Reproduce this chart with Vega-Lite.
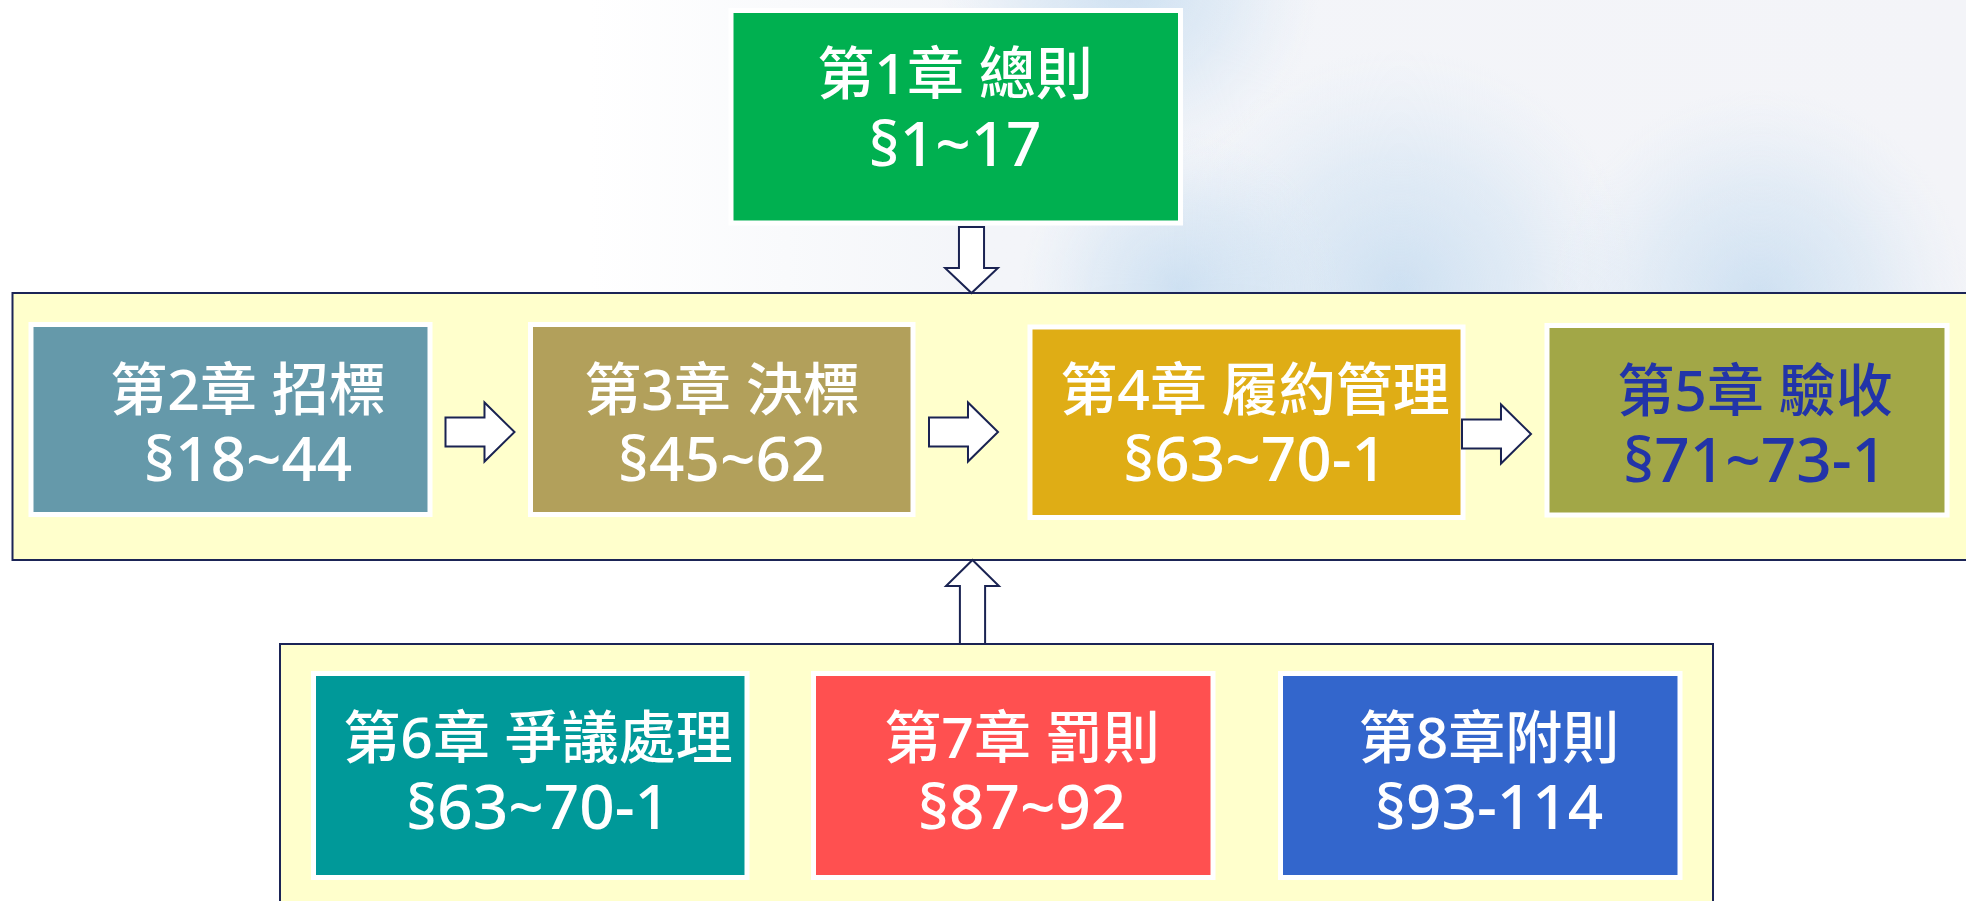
{
  "$schema": "https://vega.github.io/schema/vega-lite/v6.json",
  "width": 1966,
  "height": 901,
  "padding": 0,
  "autosize": {"type": "none"},
  "background": "#FFFFFF",
  "config": {"view": {"stroke": null}},
  "datasets": {
    "containers": [
      {"name": "middle", "x": 12.5, "x2": 2000, "y": 293, "y2": 560},
      {"name": "bottom", "x": 280, "x2": 1713, "y": 644, "y2": 960}
    ],
    "boxes": [
      {"ch": "第1章", "x": 731, "x2": 1180.5, "y": 10.5, "y2": 223, "tx": 955, "ty1": 76.5, "ty2": 146.5, "t1": "第1章 總則", "t2": "§1~17"},
      {"ch": "第2章", "x": 31, "x2": 430, "y": 324.5, "y2": 514.5, "tx": 248, "ty1": 392.5, "ty2": 461.5, "t1": "第2章 招標", "t2": "§18~44"},
      {"ch": "第3章", "x": 530.5, "x2": 913, "y": 324.5, "y2": 514.5, "tx": 722, "ty1": 393, "ty2": 462, "t1": "第3章 決標", "t2": "§45~62"},
      {"ch": "第4章", "x": 1030, "x2": 1463, "y": 327, "y2": 517.5, "tx": 1255, "ty1": 393, "ty2": 462, "t1": "第4章 履約管理", "t2": "§63~70-1"},
      {"ch": "第5章", "x": 1547, "x2": 1947, "y": 325.5, "y2": 515, "tx": 1755, "ty1": 393.5, "ty2": 462.5, "t1": "第5章 驗收", "t2": "§71~73-1"},
      {"ch": "第6章", "x": 313.5, "x2": 747, "y": 673.5, "y2": 877.5, "tx": 538, "ty1": 740.5, "ty2": 809.5, "t1": "第6章 爭議處理", "t2": "§63~70-1"},
      {"ch": "第7章", "x": 813.5, "x2": 1213, "y": 673.5, "y2": 877.5, "tx": 1022, "ty1": 740.5, "ty2": 809.5, "t1": "第7章 罰則", "t2": "§87~92"},
      {"ch": "第8章", "x": 1280.5, "x2": 1680, "y": 673.5, "y2": 877.5, "tx": 1489, "ty1": 740.5, "ty2": 809.5, "t1": "第8章附則", "t2": "§93-114"}
    ],
    "arrows": [
      {"dir": "right", "x": 480, "y": 432},
      {"dir": "right", "x": 963.5, "y": 432},
      {"dir": "right", "x": 1496.5, "y": 434},
      {"dir": "down", "x": 971.5, "y": 260},
      {"dir": "up", "x": 972.5, "y": 602}
    ],
    "clouds": [
      {"x": 1160, "x2": 1640, "y": 50, "y2": 530},
      {"x": 1550, "x2": 1970, "y": 90, "y2": 510},
      {"x": 1020, "x2": 1340, "y": 130, "y2": 450},
      {"x": 940, "x2": 1320, "y": -210, "y2": 170}
    ]
  },
  "encoding": {
    "x": {"type": "quantitative", "scale": {"domain": [0, 1966], "nice": false, "zero": false}, "axis": null},
    "y": {"type": "quantitative", "scale": {"domain": [0, 901], "nice": false, "zero": false, "reverse": true}, "axis": null}
  },
  "layer": [
    {
      "data": {"values": [{"x": 0, "x2": 1966, "y": 0, "y2": 293}]},
      "mark": {"type": "rect", "clip": true, "fill": {"gradient": "linear", "x1": 0, "y1": 0, "x2": 1, "y2": 0, "stops": [
        {"offset": 0, "color": "#FFFFFF"},
        {"offset": 0.3, "color": "#FFFFFF"},
        {"offset": 0.5, "color": "#F3F5F9"},
        {"offset": 1, "color": "#F3F4F8"}
      ]}},
      "encoding": {"x": {"field": "x", "type": "quantitative"}, "x2": {"field": "x2"}, "y": {"field": "y", "type": "quantitative"}, "y2": {"field": "y2"}}
    },
    {
      "data": {"name": "clouds"},
      "mark": {"type": "rect", "clip": true, "fill": {"gradient": "radial", "x1": 0.5, "y1": 0.5, "r1": 0, "x2": 0.5, "y2": 0.5, "r2": 0.5, "stops": [
        {"offset": 0, "color": "rgba(196,219,240,0.8)"},
        {"offset": 0.55, "color": "rgba(206,225,242,0.45)"},
        {"offset": 1, "color": "rgba(220,232,245,0)"}
      ]}},
      "encoding": {"x": {"field": "x", "type": "quantitative"}, "x2": {"field": "x2"}, "y": {"field": "y", "type": "quantitative"}, "y2": {"field": "y2"}}
    },
    {
      "data": {"name": "containers"},
      "mark": {"type": "rect", "clip": true, "fill": "#FFFFCC", "stroke": "#1B2456", "strokeWidth": 2},
      "encoding": {"x": {"field": "x", "type": "quantitative"}, "x2": {"field": "x2"}, "y": {"field": "y", "type": "quantitative"}, "y2": {"field": "y2"}}
    },
    {
      "data": {"name": "boxes"},
      "mark": {"type": "rect", "stroke": "#FFFFFF", "strokeWidth": 5},
      "encoding": {
        "x": {"field": "x", "type": "quantitative"},
        "x2": {"field": "x2"},
        "y": {"field": "y", "type": "quantitative"},
        "y2": {"field": "y2"},
        "fill": {"field": "ch", "type": "nominal", "legend": null, "scale": {
          "domain": ["第1章", "第2章", "第3章", "第4章", "第5章", "第6章", "第7章", "第8章"],
          "range": ["#00B050", "#6599AA", "#B2A05B", "#DFAD15", "#A2A747", "#009999", "#FF5050", "#3366CC"]
        }}
      }
    },
    {
      "data": {"name": "arrows"},
      "transform": [{"filter": "datum.dir === 'right'"}],
      "mark": {"type": "point", "filled": true, "opacity": 1, "fill": "#FFFFFF", "stroke": "#1A2352", "strokeWidth": 2, "size": 4761,
        "shape": "M-1,-0.42 L0.13,-0.42 L0.13,-0.855 L1,0 L0.13,0.855 L0.13,0.42 L-1,0.42 Z"},
      "encoding": {"x": {"field": "x", "type": "quantitative"}, "y": {"field": "y", "type": "quantitative"}}
    },
    {
      "data": {"name": "arrows"},
      "transform": [{"filter": "datum.dir === 'down'"}],
      "mark": {"type": "point", "filled": true, "opacity": 1, "fill": "#FFFFFF", "stroke": "#1A2352", "strokeWidth": 2, "size": 4356,
        "shape": "M-0.38,-1 L0.38,-1 L0.38,0.24 L0.8,0.24 L0,1 L-0.8,0.24 L-0.38,0.24 Z"},
      "encoding": {"x": {"field": "x", "type": "quantitative"}, "y": {"field": "y", "type": "quantitative"}}
    },
    {
      "data": {"name": "arrows"},
      "transform": [{"filter": "datum.dir === 'up'"}],
      "mark": {"type": "point", "filled": true, "opacity": 1, "fill": "#FFFFFF", "stroke": "#1A2352", "strokeWidth": 2, "size": 7056,
        "shape": "M0,-1 L0.63,-0.38 L0.3,-0.38 L0.3,1 L-0.3,1 L-0.3,-0.38 L-0.63,-0.38 Z"},
      "encoding": {"x": {"field": "x", "type": "quantitative"}, "y": {"field": "y", "type": "quantitative"}}
    },
    {
      "data": {"name": "boxes"},
      "mark": {"type": "text", "align": "center", "baseline": "middle", "font": "Noto Sans, Noto Sans CJK TC", "fontSize": 57, "fontWeight": 500},
      "encoding": {
        "x": {"field": "tx", "type": "quantitative"},
        "y": {"field": "ty1", "type": "quantitative"},
        "text": {"field": "t1"},
        "color": {"condition": {"test": "datum.ch === '第5章'", "value": "#2234A8"}, "value": "#FFFFFF"}
      }
    },
    {
      "data": {"name": "boxes"},
      "mark": {"type": "text", "align": "center", "baseline": "middle", "font": "Noto Sans, Noto Sans CJK TC", "fontSize": 62, "fontWeight": 500},
      "encoding": {
        "x": {"field": "tx", "type": "quantitative"},
        "y": {"field": "ty2", "type": "quantitative"},
        "text": {"field": "t2"},
        "color": {"condition": {"test": "datum.ch === '第5章'", "value": "#2234A8"}, "value": "#FFFFFF"}
      }
    }
  ]
}
